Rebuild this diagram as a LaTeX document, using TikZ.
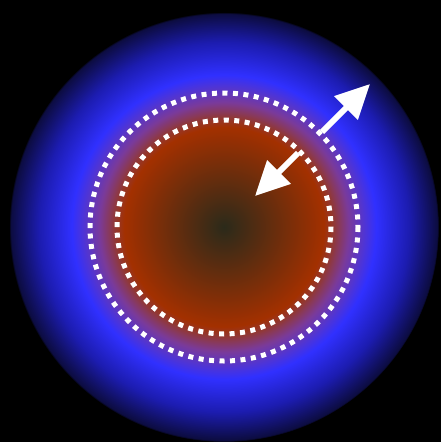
\documentclass[tikz,border=0pt]{standalone}
\usepackage{xcolor}
\usepackage{tikz}
\usetikzlibrary{arrows.meta}

\definecolor{coredark}{HTML}{2B2A1A}
\definecolor{corered}{HTML}{A33000}
\definecolor{rimred}{HTML}{903838}
\definecolor{rimpurple}{HTML}{7A3A9A}
\definecolor{glowblue}{HTML}{3030FF}
\definecolor{midblue}{HTML}{1C1CB0}
\definecolor{edgeblue}{HTML}{0C0C40}

\pgfdeclareradialshading{starglow}{\pgfpoint{0bp}{0bp}}{%
  color(0bp)=(coredark);
  color(11.6bp)=(corered);
  color(12.8bp)=(rimred);
  color(14.5bp)=(rimpurple);
  color(17.7bp)=(glowblue);
  color(21.5bp)=(midblue);
  color(24.8bp)=(edgeblue);
  color(25bp)=(black);
  color(50bp)=(black)}

\begin{document}
\begin{tikzpicture}[x=1pt, y=-1pt,
    ring/.style={draw=white, line width=5pt, dash pattern=on 5pt off 5.5pt},
    fatarrow/.style={draw=white, line width=6pt, -{Triangle[length=34pt, width=32pt]}}]
    % Define background
    \fill[black] (0,0) rectangle (441,442);
    \useasboundingbox (0,0) rectangle (441,442);

    % Define glow
    \coordinate (c) at (224,227);
    \shade[shading=starglow] (c) circle (215);

    % Define rings
    \draw[ring] (c) circle (107);
    \draw[ring] (c) circle (134);

    % Define arrows
    \coordinate (outtail) at (322,132);
    \coordinate (outtip) at (370,84);
    \coordinate (intail) at (298,153);
    \coordinate (intip) at (255,196);
    \draw[fatarrow] (outtail) -- (outtip);
    \draw[fatarrow] (intail) -- (intip);
\end{tikzpicture}
\end{document}
